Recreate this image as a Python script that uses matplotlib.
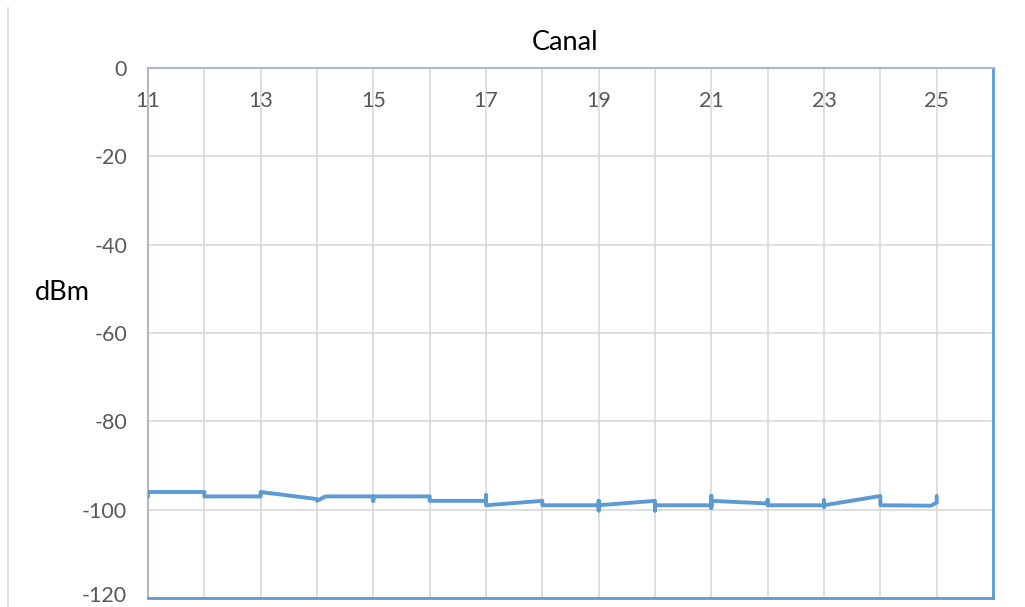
import numpy as np
import matplotlib.pyplot as plt
import matplotlib.transforms as mtransforms
from matplotlib.lines import Line2D

plt.rcParams['font.family'] = ['Lato', 'DejaVu Sans']
plt.rcParams['axes.unicode_minus'] = False

# readings per channel, in the order they were logged
canal = [11, 11, 12, 12, 13, 13, 14, 14, 14.15, 15, 15, 15, 16, 16,
         17, 17, 17, 18, 18, 19, 19, 19, 19, 20, 20, 20, 21, 21, 21, 21,
         22, 22, 22, 23, 23, 23, 23, 24, 24, 24.9, 25, 25]
dbm = [-97, -96, -96, -97, -97, -96, -97.6, -98, -97, -97, -98, -97, -97, -98,
       -98, -96.7, -99, -98, -99, -99, -98, -100.2, -99, -98, -100.2, -99,
       -99, -96.9, -99.6, -98, -98.6, -97.8, -99, -99, -97.9, -99.4, -99,
       -96.9, -99, -99.1, -98.4, -96.9]

x_ticks = list(range(11, 27))
x_labels = [str(t) if t % 2 == 1 and t < 26 else '' for t in x_ticks]
y_ticks = [0, -20, -40, -60, -80, -100, -120]

line_color = '#5b9bd5'
grid_color = '#d9d9d9'
label_color = '#595959'

fig = plt.figure(figsize=(10.25, 6.07), dpi=100)
ax = fig.add_axes([148 / 1025, 1 - 598 / 607, (993 - 148) / 1025, (598 - 68) / 607])

ax.plot(canal, dbm, color=line_color, lw=2.8, solid_capstyle='round',
        solid_joinstyle='round', zorder=3)

ax.set_xlim(11, 26)
ax.set_ylim(-120, 0)

ax.xaxis.tick_top()
ax.set_xticks(x_ticks)
ax.set_xticklabels(x_labels)
ax.set_yticks(y_ticks)
ax.tick_params(axis='x', length=0, pad=-31, labelsize=15.5, labelcolor=label_color)
ax.tick_params(axis='y', length=0, pad=15, labelsize=15.5, labelcolor=label_color)
ax.grid(True, color=grid_color, lw=1.2, zorder=0)

# lift the lowest label a little so it stays inside the canvas
bottom_lbl = ax.get_yticklabels()[-1]
bottom_lbl.set_transform(bottom_lbl.get_transform() +
                         mtransforms.ScaledTranslation(0, 3 / 72, fig.dpi_scale_trans))

ax.spines['top'].set_color('#adb9ca')
ax.spines['top'].set_linewidth(1.5)
ax.spines['left'].set_color('#b0b8c4')
ax.spines['left'].set_linewidth(1.5)
for side in ('right', 'bottom'):
    ax.spines[side].set_color(line_color)
    ax.spines[side].set_linewidth(2)

fig.text(565 / 1025, 1 - 43 / 607, 'Canal', ha='center', va='center',
         fontsize=19.5, color='black')
fig.text(35 / 1025, 1 - 293 / 607, 'dBm', ha='left', va='center',
         fontsize=19.5, color='black')

# thin frame edge on the left side of the chart area
fig.add_artist(Line2D([8 / 1025, 8 / 1025], [0, 1 - 8 / 607],
                      transform=fig.transFigure, color=grid_color, lw=1.2))

fig.savefig('out.png', dpi=100)
